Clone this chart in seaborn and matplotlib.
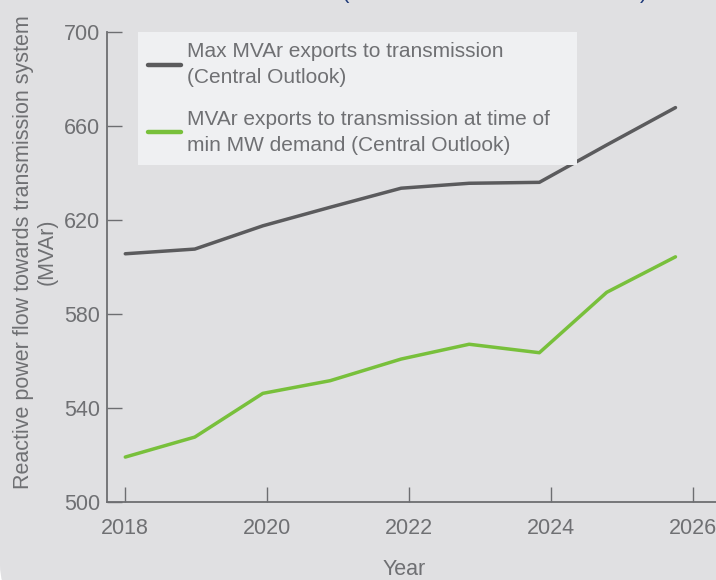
import matplotlib
matplotlib.use("Agg")
import matplotlib.pyplot as plt
import matplotlib.transforms as mtransforms
from matplotlib.patches import FancyBboxPatch
import seaborn as sns
import pandas as pd

# ---- data ----
year_pos = [2018.0, 2018.98, 2019.94, 2020.89, 2021.89, 2022.85, 2023.84, 2024.79, 2025.76]
max_mvar = [605.5, 607.5, 617.4, 625.3, 633.4, 635.5, 635.9, 651.8, 667.7]
min_demand_mvar = [519.0, 527.5, 546.1, 551.5, 560.7, 567.0, 563.4, 589.1, 604.2]
series_names = ["Max MVAr exports to transmission\n(Central Outlook)",
                "MVAr exports to transmission at time of\nmin MW demand (Central Outlook)"]
x_ticks = [2018, 2020, 2022, 2024, 2026]
y_ticks = [500, 540, 580, 620, 660, 700]

df = pd.concat([
    pd.DataFrame({"Year": year_pos, "MVAr": max_mvar, "Series": series_names[0]}),
    pd.DataFrame({"Year": year_pos, "MVAr": min_demand_mvar, "Series": series_names[1]}),
])

sns.set_theme(style="white")
plt.rcParams["font.family"] = ["Liberation Sans", "DejaVu Sans"]

BG = "#e0e0e2"
TXT = "#6f7073"
AX = "#6d6e71"
FS = 15.5

W, H = 716, 580
fig = plt.figure(figsize=(W / 100, H / 100), dpi=100)
fig.patch.set_facecolor("white")

# grey panel with rounded bottom-left corner
R = 40
panel = FancyBboxPatch((0, 15 - R), W + 200, H + 200,
                       boxstyle=f"round,pad=0,rounding_size={R}",
                       facecolor=BG, edgecolor="none",
                       transform=mtransforms.IdentityTransform(), zorder=-10)
fig.add_artist(panel)

left, right, top, bottom = 106.7, 716, 31.7, 501.7
ax = fig.add_axes([left / W, (H - bottom) / H, (right - left) / W, (bottom - top) / H])
ax.set_facecolor("none")

palette = {series_names[0]: "#5b5b5d", series_names[1]: "#78c03b"}
sns.lineplot(data=df, x="Year", y="MVAr", hue="Series", palette=palette,
             linewidth=2.5, ax=ax, legend=True)

x0 = 2018 + (left - 125.3) / 70.9
x1 = 2018 + (right - 125.3) / 70.9
ax.set_xlim(x0, x1)
ax.set_ylim(500, 700)
ax.set_xticks(x_ticks)
ax.set_yticks(y_ticks)
ax.set_xticklabels([str(t) for t in x_ticks])
ax.set_yticklabels([str(t) for t in y_ticks])

for s in ["top", "right"]:
    ax.spines[s].set_visible(False)
for s in ["left", "bottom"]:
    ax.spines[s].set_color(AX)
    ax.spines[s].set_linewidth(1.3)

ax.tick_params(axis="both", which="major", bottom=True, left=True,
               direction="in", length=10.5, width=1.0, color=AX,
               labelcolor=TXT, labelsize=FS)
ax.tick_params(axis="x", pad=12)
ax.tick_params(axis="y", pad=4.5)

ax.set_xlabel("Year", fontsize=FS, color=TXT)
ax.xaxis.set_label_coords((404 - left) / (right - left), -(575 - bottom) / (bottom - top))
ax.xaxis.label.set_va("baseline")
ax.set_ylabel("Reactive power flow towards transmission system\n(MVAr)",
              fontsize=FS, color=TXT, linespacing=1.2)
ax.yaxis.set_label_coords((58 - left) / (right - left), 0.531)

leg_w = (577 - 138) / (right - left)
leg = ax.legend(loc="upper left",
                bbox_to_anchor=((138 - left) / (right - left), 0.0, leg_w, 1.0),
                mode="expand", borderaxespad=0, frameon=True, fancybox=False, framealpha=1,
                fontsize=15, handlelength=1.55, handletextpad=0.3,
                labelspacing=1.1, borderpad=0.5, title=None)
leg.get_frame().set_facecolor("#eff0f2")
leg.get_frame().set_edgecolor("none")
for t in leg.get_texts():
    t.set_color(TXT)
    t.set_linespacing(1.45)
for h in leg.legend_handles:
    h.set_linewidth(3.2)

# title line, mostly cut off at the top of the crop
fig.text(342 / W, (H + 1.6) / H, "(Central Outlook 2018 to 2026)", color="#1f3b7a",
         fontsize=16, ha="left", va="baseline")

fig.savefig("out.png", dpi=100, facecolor=fig.get_facecolor())
